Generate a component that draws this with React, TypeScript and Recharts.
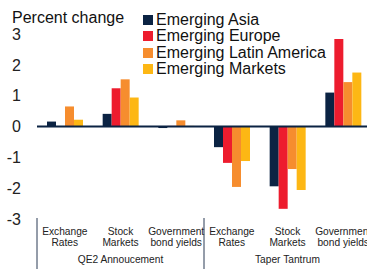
import React from 'react';
import { BarChart, Bar, XAxis, YAxis, ReferenceLine } from 'recharts';

const categoryLines: string[][] = [
  ['Exchange', 'Rates'],
  ['Stock', 'Markets'],
  ['Government', 'bond yields'],
  ['Exchange', 'Rates'],
  ['Stock', 'Markets'],
  ['Government', 'bond yields'],
];
const categories = categoryLines.map((l, i) => `${l.join(' ')} ${i}`);
const groups = ['QE2 Annoucement', 'Taper Tantrum'];

const emergingAsia = [0.16, 0.41, -0.05, -0.67, -1.94, 1.1];
const emergingEurope = [0.01, 1.24, 0.02, -1.18, -2.67, 2.84];
const emergingLatAm = [0.65, 1.53, 0.2, -1.96, -1.38, 1.44];
const emergingMarkets = [0.22, 0.94, 0.02, -1.12, -2.06, 1.75];
const yTicks = [-3, -2, -1, 0, 1, 2, 3];

const seriesDefs = [
  { key: 'asia', name: 'Emerging Asia', color: '#0B2343', values: emergingAsia },
  { key: 'europe', name: 'Emerging Europe', color: '#ED1C2E', values: emergingEurope },
  { key: 'latam', name: 'Emerging Latin America', color: '#F68D2E', values: emergingLatAm },
  { key: 'em', name: 'Emerging Markets', color: '#FDB714', values: emergingMarkets },
];

const data = categories.map((c, i) => {
  const row: Record<string, any> = { cat: c, idx: i };
  seriesDefs.forEach((s) => (row[s.key] = s.values[i]));
  return row;
});

const CHART_W = 374;
const CHART_H = 269;
const MARGIN = { top: 34, right: 3, left: 0, bottom: 0 };
const YAXIS_W = 37;
const XAXIS_H = 50;
const BAND = (CHART_W - MARGIN.left - MARGIN.right - YAXIS_W) / categories.length;
const FONT = '"Liberation Sans", Arial, sans-serif';

const XTick = (props: any) => {
  const { x, index } = props;
  const lines = categoryLines[index] || [];
  const top = CHART_H - MARGIN.bottom - XAXIS_H;
  const els: React.ReactNode[] = [];
  lines.forEach((l, j) => {
    els.push(
      <text key={'l' + j} x={x} y={top + 16 + j * 11} textAnchor="middle" fontSize={10.2} fill="#222" fontFamily={FONT}>
        {l}
      </text>
    );
  });
  if (index % 3 === 1) {
    els.push(
      <text key="g" x={x} y={top + 44} textAnchor="middle" fontSize={10.2} fill="#222" fontFamily={FONT}>
        {groups[Math.floor(index / 3)]}
      </text>
    );
  }
  if (index % 3 === 0) {
    els.push(<line key="s0" x1={x - BAND / 2} x2={x - BAND / 2} y1={top - 1} y2={CHART_H} stroke="#2A3A55" strokeWidth={1} />);
  }
  if (index === categories.length - 1) {
    els.push(<line key="s1" x1={x + BAND / 2} x2={x + BAND / 2} y1={top - 1} y2={CHART_H} stroke="#2A3A55" strokeWidth={1} />);
  }
  return <g>{els}</g>;
};

const LegendBox = () => (
  <div style={{ position: 'absolute', left: 143, top: 12, fontFamily: FONT, fontSize: 16, color: '#111' }}>
    {seriesDefs.map((s) => (
      <div key={s.key} style={{ display: 'flex', alignItems: 'center', height: 16.3, whiteSpace: 'nowrap' }}>
        <span style={{ display: 'inline-block', width: 10, height: 10, background: s.color, marginRight: 3 }} />
        <span>{s.name}</span>
      </div>
    ))}
  </div>
);

export default function App() {
  return (
    <div style={{ position: 'absolute', left: 0, top: 0, width: 367, height: 269, overflow: 'hidden', background: '#fff' }}>
      <BarChart width={CHART_W} height={CHART_H} data={data} margin={MARGIN} barSize={9} barGap={0}>
        <YAxis
          width={YAXIS_W}
          domain={[-3, 3]}
          ticks={yTicks}
          axisLine={false}
          tickLine={false}
          tickMargin={10}
          interval={0}
          tick={{ fontSize: 16, fill: '#222', fontFamily: FONT }}
        />
        <XAxis dataKey="cat" height={XAXIS_H} axisLine={false} tickLine={false} interval={0} tick={<XTick />} />
        {seriesDefs.map((s) => (
          <Bar key={s.key} dataKey={s.key} name={s.name} fill={s.color} isAnimationActive={false} />
        ))}
        <ReferenceLine y={0} stroke="#0B2343" strokeWidth={2} />
      </BarChart>
      <div style={{ position: 'absolute', left: 12, top: 10, fontFamily: FONT, fontSize: 16, lineHeight: '16px', color: '#111', whiteSpace: 'nowrap' }}>
        Percent change
      </div>
      <LegendBox />
    </div>
  );
}
